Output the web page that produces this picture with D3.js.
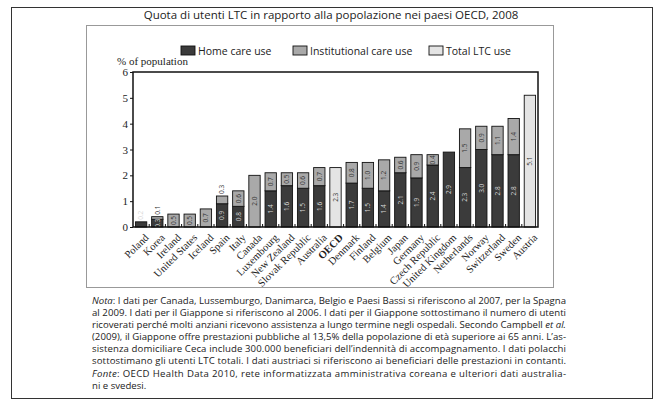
<!DOCTYPE html>
<html>
<head>
<meta charset="utf-8">
<script src="https://cdn.jsdelivr.net/npm/d3@7/dist/d3.min.js"></script>
<style>
  body { margin: 0; background: #fff; }
  svg { display: block; }
</style>
</head>
<body>
<div id="chart"></div>
<script>
// Data (% of population)
const countries = ['Poland', 'Korea', 'Ireland', 'United States', 'Iceland', 'Spain', 'Italy', 'Canada',
  'Luxembourg', 'New Zealand', 'Slovak Republic', 'Australia', 'OECD', 'Denmark', 'Finland', 'Belgium',
  'Japan', 'Germany', 'Czech Republic', 'United Kingdom', 'Netherlands', 'Norway', 'Switzerland', 'Sweden', 'Austria'];
const homeCare = [0.2, 0.3, 0, 0, 0, 0.9, 0.8, 0, 1.4, 1.6, 1.5, 1.6, 0, 1.7, 1.5, 1.4, 2.1, 1.9, 2.4, 2.9, 2.3, 3.0, 2.8, 2.8, 0];
const institutional = [0, 0.1, 0.5, 0.5, 0.7, 0.3, 0.6, 2.0, 0.7, 0.5, 0.6, 0.7, 0, 0.8, 1.0, 1.2, 0.6, 0.9, 0.4, 0, 1.5, 0.9, 1.1, 1.4, 0];
const totalOnly = [0, 0, 0, 0, 0, 0, 0, 0, 0, 0, 0, 0, 2.3, 0, 0, 0, 0, 0, 0, 0, 0, 0, 0, 0, 5.1];
const yTicks = [0, 1, 2, 3, 4, 5, 6];

const legendItems = [
  { key: 'home', label: 'Home care use' },
  { key: 'inst', label: 'Institutional care use' },
  { key: 'total', label: 'Total LTC use' }
];

// each line: list of [text, italic], and whether it is justified
const noteLines = [
  [[['Nota', 1], [': I dati per Canada, Lussemburgo, Danimarca, Belgio e Paesi Bassi si riferiscono al 2007, per la Spagna', 0]], true],
  [[['al 2009. I dati per il Giappone si riferiscono al 2006. I dati per il Giappone sottostimano il numero di utenti', 0]], true],
  [[['ricoverati perché molti anziani ricevono assistenza a lungo termine negli ospedali. Secondo Campbell ', 0], ['et al.', 1]], true],
  [[['(2009), il Giappone offre prestazioni pubbliche al 13,5% della popolazione di età superiore ai 65 anni. L’as-', 0]], true],
  [[['sistenza domiciliare Ceca include 300.000 beneficiari dell’indennità di accompagnamento. I dati polacchi', 0]], true],
  [[['sottostimano gli utenti LTC totali. I dati austriaci si riferiscono ai beneficiari delle prestazioni in contanti.', 0]], true],
  [[['Fonte', 1], [': OECD Health Data 2010, rete informatizzata amministrativa coreana e ulteriori dati australia-', 0]], true],
  [[['ni e svedesi.', 0]], false]
];

const colors = { home: '#3b3b3b', inst: '#a9a9a9', total: '#e4e4e4' };
const sansFont = '"Open Sans", "Noto Sans", sans-serif';
const serifFont = '"Liberation Serif", "DejaVu Serif", serif';

const W = 661, H = 412;
const plot = { left: 133, right: 538, top: 72, bottom: 227 };

const svg = d3.select('#chart').append('svg')
  .attr('width', W).attr('height', H);

// Outer frame and inner chart frame
svg.append('rect')
  .attr('x', 11.5).attr('y', 7.5).attr('width', 641).attr('height', 391)
  .attr('fill', 'none').attr('stroke', '#333').attr('stroke-width', 1);
svg.append('rect')
  .attr('x', 86.5).attr('y', 25.5).attr('width', 467).attr('height', 262)
  .attr('fill', 'none').attr('stroke', '#999').attr('stroke-width', 1);

svg.append('text')
  .attr('x', 331).attr('y', 19)
  .attr('text-anchor', 'middle')
  .style('font-family', sansFont).style('font-size', '11.5px').style('fill', '#222')
  .text('Quota di utenti LTC in rapporto alla popolazione nei paesi OECD, 2008');

// Scales
const x = d3.scaleBand().domain(countries).range([plot.left, plot.right]).paddingInner(0.3).paddingOuter(0.15);
const y = d3.scaleLinear().domain([0, 6]).range([plot.bottom, plot.top]);

// Build stacked segments
const segments = [];
countries.forEach((c, i) => {
  const parts = [];
  if (totalOnly[i] > 0) parts.push({ key: 'total', v: totalOnly[i] });
  if (homeCare[i] > 0) parts.push({ key: 'home', v: homeCare[i] });
  if (institutional[i] > 0) parts.push({ key: 'inst', v: institutional[i] });
  let base = 0;
  parts.forEach((p, j) => {
    segments.push({ country: c, key: p.key, v: p.v, y0: base, y1: base + p.v, top: j === parts.length - 1 });
    base += p.v;
  });
});

svg.selectAll('.seg')
  .data(segments)
  .enter()
  .append('rect')
  .attr('class', 'seg')
  .attr('x', d => x(d.country))
  .attr('width', x.bandwidth())
  .attr('y', d => y(d.y1))
  .attr('height', d => y(d.y0) - y(d.y1))
  .attr('fill', d => colors[d.key])
  .attr('stroke', '#111')
  .attr('stroke-width', 0.9);

// Value labels, rotated inside the segments (above the bar when too short)
const isShort = d => (y(d.y0) - y(d.y1)) < 10 && d.top;
svg.selectAll('.val')
  .data(segments)
  .enter()
  .append('text')
  .attr('class', 'val')
  .attr('transform', d => {
    const cx = x(d.country) + x.bandwidth() / 2;
    if (isShort(d)) return `translate(${cx},${y(d.y1) - 2}) rotate(-90)`;
    return `translate(${cx},${(y(d.y0) + y(d.y1)) / 2}) rotate(-90)`;
  })
  .attr('text-anchor', d => isShort(d) ? 'start' : 'middle')
  .attr('dy', '0.35em')
  .style('font-family', sansFont)
  .style('font-size', '6.5px')
  .style('fill', d => d.key === 'home' ? '#d8d8d8' : '#333')
  .text(d => d3.format('.1f')(d.v));

// Plot frame
svg.append('rect')
  .attr('x', plot.left).attr('y', plot.top)
  .attr('width', plot.right - plot.left).attr('height', plot.bottom - plot.top)
  .attr('fill', 'none').attr('stroke', '#111').attr('stroke-width', 1.5);

// Y axis
const yAxis = svg.append('g')
  .attr('transform', `translate(${plot.left},0)`)
  .call(d3.axisLeft(y).tickValues(yTicks).tickFormat(d3.format('d')).tickSize(3).tickPadding(2));
yAxis.select('.domain').remove();
yAxis.selectAll('text').style('font-family', serifFont).style('font-size', '11px').style('fill', '#222');
yAxis.selectAll('line').attr('stroke', '#111');

svg.append('text')
  .attr('x', 117).attr('y', 65)
  .style('font-family', serifFont).style('font-size', '11px').style('fill', '#222')
  .text('% of population');

// Category ticks between bars at the baseline
const step = x.step();
svg.selectAll('.ctick')
  .data(countries.slice(1))
  .enter()
  .append('line')
  .attr('x1', d => x(d) - (step - x.bandwidth()) / 2)
  .attr('x2', d => x(d) - (step - x.bandwidth()) / 2)
  .attr('y1', plot.bottom).attr('y2', plot.bottom - 3)
  .attr('stroke', '#111').attr('stroke-width', 1);

// Country labels
svg.selectAll('.cname')
  .data(countries)
  .enter()
  .append('text')
  .attr('class', 'cname')
  .attr('transform', d => `translate(${x(d) + x.bandwidth() / 2 + 3},${plot.bottom + 6}) rotate(-45)`)
  .attr('text-anchor', 'end')
  .attr('dy', '0.7em')
  .style('font-family', serifFont)
  .style('font-size', '10.5px')
  .style('font-weight', d => d === 'OECD' ? 'bold' : 'normal')
  .style('fill', '#222')
  .text(d => d);

// Legend
const legendX = [181, 293, 429];
const legend = svg.selectAll('.leg')
  .data(legendItems)
  .enter()
  .append('g')
  .attr('transform', (d, i) => `translate(${legendX[i]},46)`);
legend.append('rect')
  .attr('width', 14).attr('height', 9)
  .attr('fill', d => colors[d.key]).attr('stroke', '#111').attr('stroke-width', 0.9);
legend.append('text')
  .attr('x', 17).attr('y', 8.5)
  .style('font-family', sansFont).style('font-size', '10.5px').style('fill', '#222')
  .text(d => d.label);

// Note text block
const note = svg.append('g');
noteLines.forEach((ln, i) => {
  const t = note.append('text')
    .attr('x', 92).attr('y', 304 + i * 12 + (i >= 6 ? 1 : 0))
    .style('font-family', sansFont).style('font-size', '9.6px').style('fill', '#222');
  ln[0].forEach(part => {
    t.append('tspan').style('font-style', part[1] ? 'italic' : 'normal').text(part[0]);
  });
  if (ln[1]) t.attr('textLength', 474).attr('lengthAdjust', 'spacing');
});
</script>
</body>
</html>
